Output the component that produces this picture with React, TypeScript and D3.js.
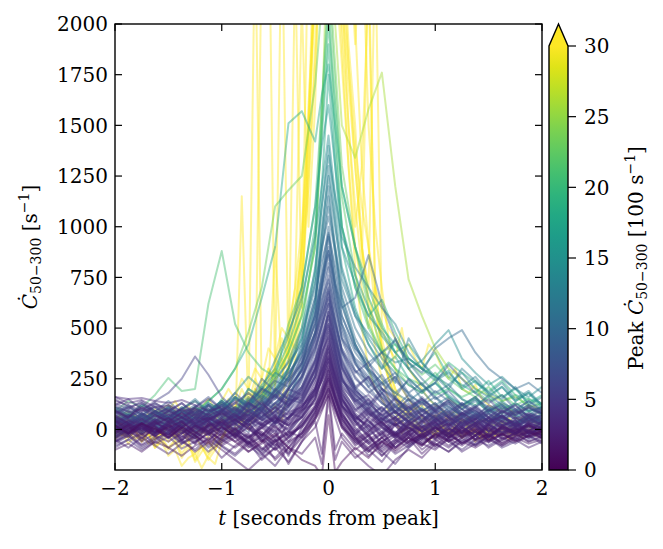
import * as d3 from 'd3';

const FONT = 'DejaVu Serif, serif';
const W = 663;
const H = 549;

// plot box and colorbar box, in page pixels
const box = { left: 115, right: 542, top: 24, bottom: 470 };
const bar = { left: 549, right: 568, top: 46, tip: 24, bottom: 470 };

// coarse time grid (seconds from peak) for most light curves
const times = [
    -2, -1.875, -1.75, -1.625, -1.5, -1.375, -1.25, -1.125, -1, -0.875, -0.75, -0.625, -0.5, -0.375, -0.25, -0.125,
    -0.0625, 0, 0.0625, 0.125, 0.25, 0.375, 0.5, 0.625, 0.75, 0.875, 1, 1.125, 1.25, 1.375, 1.5, 1.625, 1.75, 1.875, 2
];

// fine 64 ms grid for the brightest bursts
const fineTimes = d3.range(-2, 2.0001, 0.0625);

// count rates [s^-1], faint bursts
const faintRates = [
    [40, -20, 35, 10, -45, 20, 60, 5, -30, 45, 10, -60, 30, 80, 60, 150, 260, 420, 230, 120, 40, -10, 55, 20, -40, 30, 65, -15, 25, -50, 40, 10, -25, 35, 5],
    [-30, 15, -55, 25, 40, -10, -70, 30, 15, -40, 55, -20, -85, 40, 95, 130, 200, 310, 180, 90, -30, 60, 15, -45, 25, 70, -10, -35, 50, 15, -60, 20, 45, -20, 10],
    [95, 60, 110, 75, 30, 85, 40, 120, 65, 20, 90, 140, 55, 110, 180, 300, 420, 560, 390, 250, 140, 70, 110, 45, 85, 30, 95, 60, 20, 75, 40, 90, 55, 80, 60],
    [-60, -20, -75, -35, -90, -50, -110, -60, -140, -80, -30, -120, -60, -20, 10, 80, 150, 230, 120, 40, -50, -110, -40, -90, -20, -70, -100, -45, -80, -30, -65, -20, -55, -10, -40],
    [20, 55, -10, 40, 70, 15, -20, 50, 90, 30, -15, 100, 60, 140, 210, 380, 520, 680, 470, 300, 170, 90, 40, 120, 60, 10, 70, 35, -15, 50, 80, 20, 45, -5, 30],
    [160, 150, 155, 140, 130, 145, 120, 90, 110, 70, 40, 85, 30, 60, 120, 170, 250, 350, 210, 110, 60, 20, -30, 40, 10, -20, 35, -40, 15, 50, -10, 25, -30, 40, 0],
    [-10, 30, 60, 20, -25, 45, 10, 70, 30, -40, 20, 65, 110, 70, 150, 260, 370, 480, 340, 200, 100, 130, 70, 20, 60, 90, 40, 75, 30, 60, 25, 95, 50, 70, 40],
    [50, 10, -30, 25, 55, 0, -45, 15, 40, -20, -70, 10, -50, -110, -30, 60, 120, 200, 110, 30, -60, -20, -130, -70, -20, -100, -50, -10, -70, -30, 5, -45, -20, 20, -15],
    [70, 35, 80, 45, 100, 60, 25, 75, 130, 90, 50, 120, 170, 110, 240, 450, 600, 760, 560, 380, 210, 150, 90, 160, 80, 40, 110, 70, 120, 60, 95, 50, 80, 105, 75],
    [0, -40, 20, -15, 35, -55, 10, -30, 50, -10, -65, 25, 70, -40, 20, 110, 170, 270, 160, 70, -10, 50, -40, 20, -60, 10, 40, -25, 15, -50, 25, -15, 10, -35, 20],
    [110, 90, 60, 120, 80, 40, 95, 55, 15, 70, 110, 45, 90, 150, 130, 260, 430, 590, 410, 240, 180, 110, 60, 130, 90, 45, 100, 130, 70, 110, 55, 85, 120, 60, 90],
    [-80, -50, -20, -70, -35, -95, -60, -20, -85, -130, -70, -40, -100, -60, 40, 150, 260, 380, 250, 120, 10, -60, -20, -90, -40, -75, -25, -60, -100, -50, -80, -40, -70, -30, -60],
    [30, 70, 20, -15, 40, 85, 35, -5, 60, 100, 45, 5, 70, 120, 170, 290, 380, 450, 300, 190, 80, 30, 90, 50, -10, 40, 75, 20, 55, -20, 30, 65, 15, 40, 25],
    [-20, 20, -45, 5, -30, 30, -10, -60, 15, -35, -90, -50, -150, -90, -120, -40, -170, 160, -150, -60, -140, -90, -40, -110, -60, -20, -80, -40, 0, -50, -25, -70, -35, -10, -45],
    [55, 20, 75, 35, -5, 50, 90, 40, 0, 60, 120, 75, 35, 130, 250, 390, 500, 640, 450, 330, 210, 260, 140, 60, 110, 50, 85, 25, 70, 100, 40, 65, 20, 55, 35],
    [140, 120, 90, 110, 70, 100, 60, 45, 80, 30, 65, 20, 50, -10, 90, 180, 240, 330, 230, 140, 50, -20, 30, -40, 10, -30, 20, -60, -10, 30, -40, 5, -20, 15, -5],
    [-40, 0, 35, -20, 15, -55, 25, 60, 10, -30, 40, 90, 30, 150, 210, 340, 450, 520, 380, 260, 120, 40, -20, 50, 10, -35, 20, 60, -15, 30, -40, 10, 45, -25, 15],
    [10, 45, 15, -20, 30, 60, 20, -10, 40, -25, -60, -120, -180, -90, -20, 90, 160, 250, 140, 60, -40, -100, -160, -70, -30, -80, -20, -50, 10, -30, 20, -40, -5, 25, -15],
    [80, 110, 70, 130, 95, 50, 110, 160, 100, 60, 140, 200, 160, 240, 330, 470, 580, 700, 520, 390, 260, 180, 230, 150, 100, 160, 90, 130, 70, 110, 150, 80, 120, 60, 100],
    [-50, -10, -40, 10, -25, 15, -15, -50, -5, 30, -35, 10, 55, 20, 60, 150, 210, 290, 190, 100, 20, 80, 10, -30, 25, -10, -45, 5, -25, 15, -35, 0, -20, 10, -30],
    [25, -15, 50, 15, -30, 35, 75, 30, -10, 45, 90, 50, 10, 60, 130, 240, 330, 410, 290, 170, 90, 150, 50, 90, 40, -5, 55, 20, 80, 35, -10, 45, 15, 60, 20],
    [-100, -70, -110, -60, -90, -130, -80, -50, -100, -150, -200, -140, -90, -160, -60, 10, 90, 180, 60, -40, -120, -180, -230, -150, -100, -140, -70, -110, -60, -90, -50, -80, -40, -70, -50],
    [0, 40, 80, 50, 10, 60, 100, 70, 30, 80, 130, 90, 200, 150, 270, 410, 510, 620, 440, 310, 190, 130, 70, 110, 40, 90, 55, 15, 60, 30, 75, 40, 10, 50, 30],
    [65, 30, -5, 40, 75, 35, 0, 50, 85, 45, 10, -30, 40, 85, 110, 200, 280, 360, 260, 150, 70, 10, 60, -20, 40, 0, 35, -30, 20, 55, 10, -25, 30, -10, 20],
    [35, 75, 45, 15, 60, 30, 80, 120, 70, 30, 100, 160, 110, 200, 290, 470, 640, 800, 610, 440, 290, 210, 130, 80, 150, 100, 50, 110, 70, 30, 90, 55, 20, 70, 45],
    [-15, 25, -25, 15, -40, 5, -60, -20, -80, -40, -110, -70, -30, -90, -10, 70, 130, 210, 110, 20, -70, -30, -90, -50, -10, -60, -30, -80, -40, -10, -55, -25, 0, -35, -10],
    [120, 85, 100, 60, 90, 130, 80, 50, 95, 140, 85, 45, 110, 170, 140, 260, 360, 470, 320, 210, 140, 90, 50, 20, 70, 100, 60, 30, 80, 110, 60, 40, 90, 70, 55],
    [-35, 5, 30, -10, 20, -20, 15, 45, -30, 0, 35, -60, 0, -130, 10, 110, 190, 300, 170, 80, -20, 20, -80, 30, -10, 15, -45, 20, -15, 35, -5, -30, 15, -20, 5],
    [60, 25, -10, 35, 0, 45, 15, -25, 30, 65, 20, 80, 130, 90, 190, 330, 430, 540, 360, 230, 150, 100, 180, 90, 40, 75, 20, 50, 85, 40, 5, 60, 25, -10, 35],
    [15, -25, 5, -35, 25, -5, -45, 0, -70, -30, 10, -50, -100, -40, 30, 100, 160, 240, 150, 50, -30, -90, -40, -10, -60, -25, 10, -40, -15, -60, -20, 5, -35, -15, -25],
    [-20, 20, 55, 15, -15, 40, 5, 60, 25, -20, 55, 110, 70, 170, 260, 420, 540, 670, 500, 350, 200, 120, 70, 20, 60, 25, -10, 40, 5, 65, 25, -15, 35, 10, 40],
    [90, 50, 25, 70, 40, 10, 50, 20, -15, 35, 75, 25, -20, 50, 120, 210, 300, 390, 270, 160, 50, 110, 30, 60, 0, 45, 15, -20, 40, 10, 55, 20, -15, 30, 10],
    [-60, -30, -80, -45, -15, -65, -30, -90, -50, -20, -70, -110, -50, -10, 60, 180, 320, 440, 320, 180, 70, 0, -60, -20, -80, -40, -10, -55, -25, -75, -35, -5, -50, -20, -40],
    [45, 0, 30, -15, 10, 40, -20, 20, -40, 5, -80, -30, 20, -60, -20, 50, 100, 170, 90, 10, -50, -10, 40, -30, 10, -40, -5, 30, -20, 5, -35, 15, -10, 20, -5],
    [100, 60, 130, 90, 50, 110, 70, 40, 90, 130, 180, 120, 80, 200, 170, 300, 400, 500, 360, 240, 170, 120, 200, 110, 70, 130, 90, 150, 100, 60, 120, 90, 70, 110, 80],
    [-45, -10, 10, -30, -60, -20, 20, -15, -50, 0, -40, -90, -140, -70, -20, 80, 150, 260, 150, 50, -40, -130, -80, -30, -70, -20, -50, -90, -40, -10, -60, -25, -45, -5, -30],
    [25, -10, 20, 50, 15, -20, 35, 70, 120, 80, 40, 100, 150, 230, 320, 480, 600, 720, 540, 400, 290, 240, 160, 90, 130, 70, 40, 80, 50, 20, 60, 35, 15, 45, 30],
    [160, 130, 145, 110, 120, 90, 105, 70, 95, 50, 75, 30, 60, 20, 100, 190, 260, 340, 220, 120, 40, -30, 10, -40, -10, 20, -25, 10, -35, -5, 25, -15, 5, -20, 0],
    [20, 60, 90, 140, 180, 250, 360, 270, 160, 100, 60, 110, 40, 90, 160, 280, 420, 580, 400, 260, 150, 80, 40, 90, 30, 60, 20, 45, 70, 30, 55, 20, 40, 60, 30],
    [-70, -30, -90, -50, -10, -60, -100, -40, -80, -120, -60, -150, -90, -40, 20, 90, 170, 290, 150, 60, -40, -100, -60, -120, -80, -30, -90, -50, -110, -70, -30, -80, -50, -90, -60],
    [130, 100, 140, 90, 120, 70, 110, 150, 100, 60, 130, 90, 160, 120, 200, 330, 430, 520, 420, 300, 190, 140, 90, 150, 110, 70, 120, 80, 130, 90, 60, 110, 80, 120, 90],
    [10, -30, 20, -10, 30, -40, 0, 40, -20, 10, -50, 30, -10, 60, 100, 230, 320, 410, 300, 180, 70, 0, 40, -30, 20, -50, 10, -20, 30, -10, 40, -30, 0, 20, -10],
    [50, 90, 30, 70, 110, 60, 20, 80, 130, 70, 110, 170, 120, 210, 330, 560, 740, 880, 700, 520, 330, 230, 160, 110, 170, 90, 130, 60, 100, 50, 90, 120, 70, 40, 80],
    [-20, 20, 50, 0, -40, 10, 50, -10, 30, 70, 20, -30, 40, 0, 80, 190, 260, 350, 250, 150, 40, 90, 20, -30, 30, -10, 50, 10, -40, 20, 60, 0, 30, -20, 10],
    [80, 40, 0, 50, 90, 40, -10, 60, 20, 90, 140, 60, 180, 130, 260, 400, 510, 620, 480, 340, 200, 120, 180, 80, 40, 100, 50, 10, 70, 30, 80, 40, 0, 60, 20],
    [40, -10, 20, -30, 0, -50, -20, 30, -10, -60, -20, -100, -50, -170, -60, 50, 120, 220, 100, 10, -80, -30, -110, -60, -20, -70, -30, 0, -40, -80, -30, -60, -10, -40, -20],
    [0, 50, 20, -20, 40, 10, 60, 30, 90, 50, 130, 100, 190, 250, 350, 520, 640, 740, 600, 450, 320, 250, 180, 260, 150, 90, 130, 60, 30, 80, 40, 70, 20, 50, 10],
    [150, 110, 130, 80, 100, 60, 90, 40, 70, 110, 60, 20, 90, 140, 160, 290, 380, 460, 350, 220, 130, 60, 110, 40, 80, 10, 50, 90, 30, 70, 20, 60, 100, 40, 70],
    [-40, 0, -60, -20, 10, -30, -70, -10, -50, -90, -40, -10, -70, -120, -40, 40, -120, 190, -100, -20, -100, -50, -10, -90, -40, -120, -60, -20, -70, -30, 10, -50, -20, -60, -30],
    [30, 70, 40, 90, 50, 100, 70, 130, 90, 150, 110, 200, 170, 260, 400, 650, 830, 960, 800, 610, 420, 300, 230, 280, 180, 120, 160, 90, 130, 70, 110, 60, 90, 50, 70],
    [60, 20, -20, 30, 60, 10, -30, 20, 50, 0, -40, 10, 60, 20, 90, 170, 240, 330, 220, 120, 30, -30, 20, 60, 0, -40, 10, 50, -10, 30, -30, 10, -20, 30, 0],
    [-30, 10, -20, 30, 0, 40, -10, 20, 60, 10, 50, 100, 40, 120, 210, 350, 460, 560, 440, 310, 180, 100, 50, 90, 30, -10, 40, 0, 60, 20, -20, 30, -10, 20, -30],
    [90, 60, 110, 70, 40, 80, 30, 60, 20, 50, 0, -40, 10, -30, 40, 120, 190, 250, 160, 70, -20, -70, -20, 30, -30, 10, -40, 0, -20, 20, -30, 10, -10, -40, 0],
    [10, -20, 30, 0, 40, 10, -30, 50, 20, 80, 40, 130, 220, 300, 480, 720, 900, 1050, 880, 660, 450, 330, 250, 180, 240, 150, 100, 140, 80, 50, 100, 60, 30, 70, 40],
    [-90, -50, -100, -60, -20, -70, -40, -110, -60, -20, -80, -130, -60, -20, 70, 200, 300, 400, 280, 160, 40, -40, -100, -50, -90, -30, -70, -110, -50, -80, -40, -90, -60, -30, -70],
    [110, 70, 50, 90, 60, 100, 140, 80, 120, 60, 100, 150, 90, 200, 290, 450, 570, 690, 530, 380, 250, 190, 130, 90, 150, 70, 110, 140, 80, 120, 60, 100, 70, 110, 80],
    [20, -20, 10, 40, -10, 20, -30, 10, -60, -20, 30, -30, -80, -30, 20, 110, 180, 270, 170, 80, -10, -70, -130, -60, -10, -50, 10, -30, -60, -10, -40, 20, -20, 0, -30],
    [40, 0, 60, 20, -20, 30, 70, 20, 100, 60, 30, 120, 190, 150, 320, 530, 690, 820, 640, 480, 330, 210, 270, 160, 90, 140, 60, 100, 40, 80, 20, 60, 30, 70, 40],
    [-10, 30, 0, 50, 20, -20, 40, 80, 30, 0, 50, 20, -40, 60, 110, 200, 290, 360, 270, 150, 60, 20, 80, 30, -20, 40, 0, 60, 10, -30, 30, 70, 20, -10, 40],
    [70, 110, 80, 40, 90, 130, 70, 100, 50, 20, 70, 110, 170, 120, 190, 310, 410, 490, 380, 250, 140, 170, 100, 60, 110, 150, 90, 40, 80, 50, 100, 60, 30, 80, 50],
    [20, -20, 30, 0, -40, 10, -30, -70, -20, -60, -110, -60, -20, -90, -150, -180, -230, 70, -210, -160, -90, -140, -60, -100, -40, -80, -20, -60, -30, 0, -50, -20, -60, -30, -10],
    [50, 10, 70, 30, -10, 40, 80, 40, 0, 50, 100, 60, 20, 110, 200, 340, 470, 580, 460, 320, 200, 260, 150, 80, 120, 40, 90, 20, 60, 100, 30, 70, 10, 50, 20],
    [-50, -90, -40, -80, -120, -70, -30, -80, -40, -10, -60, -100, -30, 10, 60, 160, 240, 310, 210, 110, 0, -60, -110, -170, -90, -40, -80, -20, -70, -30, -90, -50, -20, -60, -40],
    [90, 50, 100, 60, 110, 70, 30, 80, 120, 160, 110, 180, 240, 210, 360, 580, 760, 900, 720, 560, 400, 310, 380, 240, 180, 230, 150, 190, 120, 160, 90, 130, 100, 70, 110],
    [0, 40, 10, -30, 20, 60, 30, -10, 40, 80, 20, 60, 110, 50, 140, 260, 350, 430, 330, 200, 100, 40, -10, 60, 20, 70, 30, -20, 40, 0, 50, 10, 60, 30, -10],
    [70, 30, -10, 40, 0, -40, 20, -20, 10, -30, -70, -20, -60, -10, -40, 60, 130, 200, 110, 20, -60, -110, -60, -20, -70, -30, 10, -40, 0, -50, -20, -70, -30, 0, -40],
    [20, 60, 30, 80, 50, 10, 60, 110, 70, 130, 90, 50, 130, 200, 290, 440, 560, 650, 520, 390, 280, 330, 200, 140, 90, 150, 100, 60, 120, 80, 40, 90, 60, 20, 70],
    [120, 150, 100, 130, 90, 60, 100, 50, 80, 40, 90, 130, 70, 30, 110, 200, 290, 380, 260, 140, 50, 100, 30, -20, 40, -10, 30, 70, 10, 50, -10, 40, 0, 30, -20],
    [-60, -20, 10, -30, 20, -10, 30, -20, 10, 50, 0, 40, 90, 50, 150, 300, 420, 510, 410, 280, 160, 80, 30, -20, 50, -10, 20, -40, 10, -30, 20, -20, 10, -50, -10]
];

// medium bursts
const mediumRates = [
    [10, 40, 0, 30, 60, 20, -10, 50, 80, 40, 100, 60, 130, 180, 260, 480, 700, 950, 720, 600, 650, 860, 620, 450, 300, 220, 160, 110, 70, 90, 40, 80, 50, 30, 55],
    [40, 80, 30, 70, 110, 60, 20, 90, 140, 80, 200, 150, 250, 330, 420, 650, 880, 1100, 900, 700, 500, 380, 300, 450, 330, 250, 180, 220, 150, 110, 170, 120, 90, 140, 100],
    [-20, 30, 60, 10, 50, 90, 40, 120, 80, 160, 110, 210, 160, 300, 450, 700, 1000, 1250, 1000, 780, 560, 420, 320, 230, 450, 330, 260, 200, 300, 240, 180, 150, 210, 120, 160],
    [60, 100, 50, 90, 140, 80, 120, 60, 110, 180, 120, 250, 190, 280, 360, 560, 720, 860, 640, 450, 350, 290, 200, 160, 250, 190, 230, 320, 250, 180, 130, 170, 100, 140, 90],
    [30, 60, 20, 80, 40, 90, 60, 130, 100, 180, 260, 200, 340, 480, 650, 950, 1200, 1450, 1150, 900, 720, 560, 480, 380, 300, 340, 420, 490, 350, 280, 220, 260, 200, 160, 210],
    [20, 60, 30, 90, 50, 110, 80, 140, 200, 300, 420, 650, 900, 1510, 1570, 1420, 1650, 1800, 1500, 1200, 900, 650, 500, 420, 350, 300, 380, 260, 220, 180, 240, 160, 200, 130, 170],
    [-10, 30, 70, 20, 60, 100, 50, 90, 140, 90, 160, 120, 200, 280, 380, 560, 780, 1000, 760, 560, 400, 330, 380, 440, 330, 280, 400, 450, 490, 380, 300, 250, 200, 230, 180],
    [50, 20, 70, 40, 90, 60, 30, 80, 120, 70, 150, 110, 190, 260, 390, 620, 950, 1300, 1020, 740, 560, 470, 380, 330, 350, 300, 240, 280, 210, 260, 180, 230, 150, 190, 120],
    [-30, 10, 40, -10, 30, 70, 20, 60, 100, 50, 130, 90, 170, 240, 330, 520, 700, 880, 680, 500, 340, 260, 200, 150, 100, 140, 80, 120, 60, 90, 40, 70, 30, 60, 40],
    [80, 120, 70, 110, 60, 100, 150, 90, 140, 80, 130, 190, 150, 260, 380, 620, 900, 1150, 860, 620, 420, 300, 230, 180, 140, 190, 120, 160, 100, 140, 90, 120, 70, 100, 80],
    [0, 40, -20, 30, 70, 20, 60, 10, 50, 100, 70, 150, 230, 340, 500, 780, 1100, 1400, 1080, 800, 580, 450, 350, 280, 220, 180, 230, 170, 120, 160, 100, 140, 90, 120, 80],
    [100, 60, 120, 80, 40, 90, 50, 100, 60, 110, 70, 140, 100, 200, 300, 480, 720, 970, 700, 520, 380, 290, 220, 260, 170, 130, 190, 140, 100, 150, 110, 80, 130, 90, 110],
    [20, -20, 30, -10, 40, 0, -40, 20, 60, -10, 40, 90, 30, 150, 300, 600, 950, 1200, 900, 650, 420, 280, 180, 120, 60, 110, 40, 90, 20, 70, -10, 50, 20, 60, 30],
    [60, 30, 80, 50, 20, 70, 110, 60, 100, 150, 120, 200, 280, 240, 420, 800, 1100, 1350, 1150, 950, 800, 700, 600, 520, 380, 300, 260, 220, 280, 200, 160, 210, 140, 180, 120],
    [30, 70, 40, 90, 60, 20, 80, 120, 90, 160, 130, 220, 300, 460, 700, 1100, 1400, 1600, 1300, 1000, 760, 600, 460, 380, 420, 330, 250, 290, 200, 240, 170, 210, 140, 180, 110]
];

// bright bursts
const brightRates = [
    [90, 140, 110, 170, 254, 190, 200, 620, 880, 520, 380, 300, 260, 520, 700, 1100, 1600, 2100, 1500, 1000, 700, 500, 380, 300, 250, 220, 280, 200, 160, 190, 140, 170, 120, 150, 110],
    [40, 80, 20, 60, 100, 50, 90, 140, 200, 300, 480, 700, 1100, 1180, 1250, 1700, 2100, 2300, 1800, 1300, 900, 600, 400, 300, 220, 180, 250, 150, 110, 160, 90, 130, 80, 110, 70],
    [60, 20, 70, 30, 80, 40, 110, 60, 150, 100, 200, 160, 280, 420, 620, 1000, 1450, 1900, 1400, 1000, 700, 560, 640, 480, 350, 300, 260, 330, 280, 230, 190, 240, 170, 150, 130],
    [50, 90, 40, 80, 120, 70, 110, 60, 130, 90, 180, 140, 240, 380, 560, 900, 1500, 2600, 2000, 1500, 1340, 1580, 1760, 1200, 740, 560, 400, 300, 250, 200, 170, 140, 160, 120, 100],
    [-40, 0, 30, -20, 20, 60, 10, 50, 90, 30, 80, 140, 200, 300, 450, 750, 1200, 1750, 1300, 900, 600, 420, 300, 360, 250, 190, 230, 160, 120, 150, 80, 110, 60, 90, 50],
    [30, -10, 40, 0, 50, 10, 60, 100, 40, 90, 150, 100, 180, 300, 500, 950, 1600, 2200, 1700, 1150, 760, 520, 380, 420, 330, 270, 320, 250, 200, 160, 210, 140, 170, 110, 130],
    [110, 70, 120, 90, 60, 100, 140, 90, 130, 80, 120, 170, 260, 380, 560, 900, 1500, 2000, 1600, 1200, 900, 700, 520, 380, 300, 220, 170, 200, 150, 120, 160, 100, 130, 90, 110]
];

// brightest bursts (peak above 3000 s^-1), on the fine grid
const brightestRates = [
    [20, -30, 10, 45, -20, 30, -50, 0, 25, -40, -10, -60, -30, -90, -140, -170, -60, 20, -30, 1150, 80, 2500, 150, 60, 120, 40, 200, 350, 600, 1400, 2300, 2900,
        3500, 2600, 1900, 1300, 800, 500, 300, 200, 150, 90, 40, -20, 30, -10, 50, 0, -30, 20, -40, 10, -20, 30, -10, -50, 10, -20, 15, -30, 5, -10, 20, -25, 0],
    [-50, -10, -70, -30, -60, -20, -80, -40, -90, -50, -120, -70, -160, -110, -60, -100, -40, 30, -20, 60, 0, 90, 2400, 2800, 200, 150, 300, 500, 900, 1600, 2200, 3100,
        4000, 3000, 2500, 1900, 1500, 900, 600, 400, 250, 150, 80, 40, -10, 20, -30, 10, -20, 40, -10, 20, -40, -10, -60, -20, -50, -30, -10, -50, -20, -40, 0, -30, -10],
    [0, 30, -20, 25, -10, 40, 10, -30, 20, -40, 0, 35, -20, 10, -50, 15, 60, 20, 90, 40, 120, 200, 150, 300, 250, 2600, 300, 450, 700, 1200, 1900, 2500,
        3200, 2600, 2000, 1500, 1100, 800, 2400, 600, 400, 250, 180, 120, 80, 110, 60, 40, 70, 30, 60, 20, 50, 10, 40, -10, 30, 20, 40, 0, 30, 10, -20, 20, 10],
    [60, 20, 50, 10, 40, 80, 30, 70, 40, 90, 20, 60, 100, 50, 80, 120, 90, 150, 100, 200, 130, 250, 180, 300, 220, 350, 280, 2300, 600, 1500, 2600, 3800,
        5000, 4000, 3200, 2500, 1900, 2500, 1500, 1000, 700, 450, 300, 200, 150, 100, 120, 80, 60, 90, 40, 70, 30, 60, 20, 50, 40, 70, 30, 60, 20, 50, 40, 60, 40],
    [-20, 10, -40, 0, -60, -20, -90, -50, -100, -60, -140, -90, -120, -190, -130, -80, -40, 10, 60, 20, 100, 50, 150, 200, 300, 250, 450, 400, 700, 2500, 2000, 2900,
        3800, 3000, 2200, 1500, 1000, 1300, 2200, 700, 450, 300, 200, 120, 70, 40, 0, 30, -10, 20, -20, 10, -40, 0, -30, 10, -20, 0, -30, 10, -20, -5, 20, -15, -5],
    [40, 0, 30, -10, 20, 50, 10, -30, 20, 60, 0, 40, 80, 30, -20, 50, 80, 40, 120, 70, 160, 110, 200, 150, 300, 250, 400, 600, 900, 1300, 2400, 2700,
        3000, 2500, 2100, 1700, 1300, 900, 700, 2400, 500, 400, 350, 500, 300, 250, 200, 150, 120, 100, 70, 90, 40, 60, 20, 50, 30, 40, 10, 50, 20, 60, 30, 40, 30],
    [10, -30, 0, -50, -20, -70, -40, 0, 40, -10, 20, -40, 10, -20, 30, -10, 40, 100, 60, 150, 100, 200, 150, 250, 300, 450, 350, 600, 900, 1500, 2300, 3200,
        4500, 3800, 3300, 2800, 2000, 1300, 900, 600, 400, 250, 150, 100, 60, 20, -20, 10, -40, -10, -30, 0, -40, -20, 10, -30, -10, -30, 0, -20, 10, -20, 0, -30, -20],
    [-30, 0, -40, -10, -50, -20, -90, -60, -130, -100, -180, -140, -120, -80, -150, -100, -40, 20, 80, 40, 130, 90, 180, 150, 350, 300, 500, 700, 1000, 1500, 2100, 2800,
        3300, 2700, 2200, 1800, 1400, 1100, 900, 700, 600, 500, 450, 380, 420, 350, 300, 420, 380, 300, 250, 300, 200, 180, 220, 150, 120, 100, 80, 110, 60, 40, 70, 30, 20],
    [50, 80, 40, 70, 30, 60, 100, 50, 90, 140, 80, 120, 60, 110, 150, 100, 140, 200, 150, 250, 200, 300, 250, 400, 350, 500, 450, 700, 2100, 1000, 1600, 2800,
        3600, 2900, 2400, 1800, 1300, 900, 650, 500, 350, 250, 150, 80, 40, 10, -40, -10, 20, -20, 0, -30, -10, 20, -20, 0, -30, -10, 20, -10, 0, -30, -10, 10, -20],
    [-10, 20, -20, 10, -30, 0, -50, -20, -60, -20, -90, -50, -150, -80, -120, -40, 30, 0, 80, 40, 150, 100, 250, 200, 900, 300, 400, 500, 800, 1200, 1800, 2500,
        3100, 2300, 1800, 1300, 900, 700, 500, 700, 400, 300, 200, 150, 100, 50, 0, -60, -20, 10, -30, 0, -20, 10, -10, -40, 0, -20, 10, -10, -30, 0, -20, 10, -10]
];

const xTicks = [-2, -1, 0, 1, 2];
const yTicks = [0, 250, 500, 750, 1000, 1250, 1500, 1750, 2000];
const barTicks = [0, 5, 10, 15, 20, 25, 30];

const fmt = (v: number) => String(v).replace('-', '\u2212');

export default function App() {
    const x = d3.scaleLinear().domain([-2, 2]).range([box.left, box.right]);
    const y = d3.scaleLinear().domain([-200, 2000]).range([box.bottom, box.top]);
    const c = d3.scaleLinear().domain([0, 30]).range([bar.bottom, bar.top]);
    const colour = (peak: number) => d3.interpolateViridis(Math.min(peak / 3000, 1));

    const lineOn = (ts: number[]) =>
        d3
            .line<number>()
            .x((_, i) => x(ts[i]))
            .y((d) => y(d));
    const coarse = lineOn(times);
    const fine = lineOn(fineTimes);

    // brightest first so the faint ones end up on top
    const curves = [
        ...brightestRates.map((v) => ({ d: fine(v), peak: d3.max(v) as number })),
        ...[...brightRates, ...mediumRates, ...faintRates].map((v) => ({ d: coarse(v), peak: d3.max(v) as number }))
    ].sort((a, b) => b.peak - a.peak);

    const stops = d3.range(0, 1.0001, 0.05);
    const barMid = (bar.left + bar.right) / 2;

    return (
        <svg width={W} height={H} style={{ position: 'absolute', left: 0, top: 0 }} fontFamily={FONT}>
            <defs>
                <clipPath id="plot-clip">
                    <rect x={box.left} y={box.top} width={box.right - box.left} height={box.bottom - box.top} />
                </clipPath>
                <linearGradient id="viridis" x1="0" y1="1" x2="0" y2="0">
                    {stops.map((s) => (
                        <stop key={s} offset={s} stopColor={d3.interpolateViridis(s)} />
                    ))}
                </linearGradient>
            </defs>

            <rect width={W} height={H} fill="#ffffff" />

            {/* light curves */}
            <g clipPath="url(#plot-clip)">
                {curves.map((cv, i) => (
                    <path
                        key={i}
                        d={cv.d ?? ''}
                        fill="none"
                        stroke={colour(cv.peak)}
                        strokeWidth={2}
                        strokeOpacity={0.45}
                        strokeLinejoin="round"
                    />
                ))}
            </g>

            {/* ticks, inward on all four sides */}
            <g stroke="#000" strokeWidth={1.2}>
                {xTicks.map((t) => (
                    <g key={t}>
                        <line x1={x(t)} x2={x(t)} y1={box.bottom} y2={box.bottom - 7} />
                        <line x1={x(t)} x2={x(t)} y1={box.top} y2={box.top + 7} />
                    </g>
                ))}
                {yTicks.map((t) => (
                    <g key={t}>
                        <line x1={box.left} x2={box.left + 7} y1={y(t)} y2={y(t)} />
                        <line x1={box.right} x2={box.right - 7} y1={y(t)} y2={y(t)} />
                    </g>
                ))}
            </g>
            <rect
                x={box.left}
                y={box.top}
                width={box.right - box.left}
                height={box.bottom - box.top}
                fill="none"
                stroke="#000"
                strokeWidth={1.4}
            />

            {/* tick labels */}
            <g fontSize={20} fill="#000">
                {xTicks.map((t) => (
                    <text key={t} x={x(t)} y={495} textAnchor="middle">
                        {fmt(t)}
                    </text>
                ))}
                {yTicks.map((t) => (
                    <text key={t} x={108} y={y(t) + 7.3} textAnchor="end">
                        {fmt(t)}
                    </text>
                ))}
            </g>

            {/* axis labels */}
            <text x={x(0)} y={525} textAnchor="middle" fontSize={20}>
                <tspan fontStyle="italic">t</tspan>
                {' [seconds from peak]'}
            </text>
            <text transform="translate(37,247) rotate(-90)" textAnchor="middle" fontSize={20}>
                <tspan fontStyle="italic">Ċ</tspan>
                <tspan fontSize={14} dy={4}>
                    50−300
                </tspan>
                <tspan dy={-4}>{' [s'}</tspan>
                <tspan fontSize={14} dy={-8}>
                    −1
                </tspan>
                <tspan dy={8}>]</tspan>
            </text>

            {/* colorbar */}
            <rect x={bar.left} y={bar.top} width={bar.right - bar.left} height={bar.bottom - bar.top} fill="url(#viridis)" />
            <path
                d={`M${bar.left},${bar.top} L${barMid},${bar.tip} L${bar.right},${bar.top} Z`}
                fill={d3.interpolateViridis(1)}
            />
            <path
                d={`M${bar.left},${bar.bottom} L${bar.left},${bar.top} L${barMid},${bar.tip} L${bar.right},${bar.top} L${bar.right},${bar.bottom} Z`}
                fill="none"
                stroke="#000"
                strokeWidth={1.4}
            />
            <g stroke="#000" strokeWidth={1.2}>
                {barTicks.map((t) => (
                    <line key={t} x1={bar.right} x2={bar.right + 8} y1={c(t)} y2={c(t)} />
                ))}
            </g>
            <g fontSize={20} fill="#000">
                {barTicks.map((t) => (
                    <text key={t} x={584} y={c(t) + 7.3}>
                        {t}
                    </text>
                ))}
            </g>
            <text transform="translate(643,258) rotate(-90)" textAnchor="middle" fontSize={20}>
                {'Peak '}
                <tspan fontStyle="italic">Ċ</tspan>
                <tspan fontSize={14} dy={4}>
                    50−300
                </tspan>
                <tspan dy={-4}>{' [100 s'}</tspan>
                <tspan fontSize={14} dy={-8}>
                    −1
                </tspan>
                <tspan dy={8}>]</tspan>
            </text>
        </svg>
    );
}
